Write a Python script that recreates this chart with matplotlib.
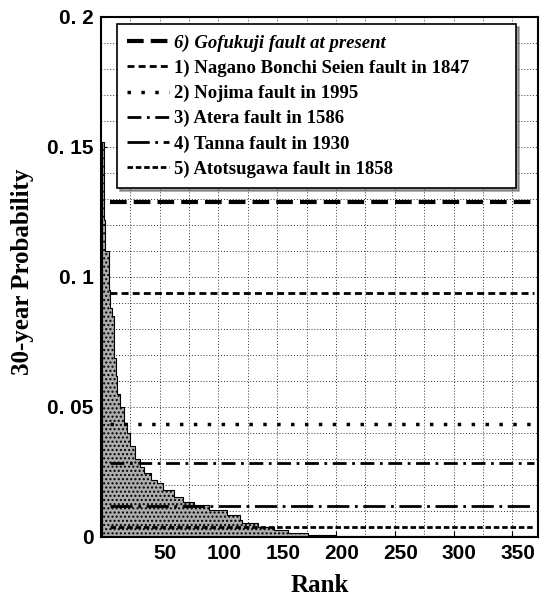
import matplotlib.pyplot as plt
from matplotlib.ticker import FixedLocator, FixedFormatter, MultipleLocator
from matplotlib.transforms import ScaledTranslation

# distribucion de probabilidad a 30 anos por rango
rangos = [1, 2.5, 3.4, 6.8, 7.6, 9.3, 11, 12.7, 13.6, 16, 19.5, 22, 24.6, 29, 33, 37,
          43, 47.5, 53, 62, 70, 79, 92, 107, 118, 120, 134, 147, 159, 176, 200, 372]
probs = [0.152, 0.122, 0.110, 0.095, 0.088, 0.085, 0.069, 0.062, 0.055, 0.050, 0.044,
         0.040, 0.035, 0.030, 0.027, 0.0246, 0.022, 0.0208, 0.018, 0.0154, 0.0135,
         0.0123, 0.0104, 0.0085, 0.0065, 0.0054, 0.0038, 0.0027, 0.0015, 0.0006,
         0.0002, 0.0]

# fallas de referencia
fallas = ["6) Gofukuji fault at present",
          "1) Nagano Bonchi Seien fault in 1847",
          "2) Nojima fault in 1995",
          "3) Atera fault in 1586",
          "4) Tanna fault in 1930",
          "5) Atotsugawa fault in 1858"]
prob_fallas = [0.129, 0.094, 0.0436, 0.0286, 0.012, 0.0039]
estilos = [(0, (4, 1.7)), (0, (2.5, 1.5)), (0, (1, 3)), (0, (5, 2, 1, 2)),
           (0, (8, 2, 1, 2)), (0, (2, 1))]
grosores = [3.0, 2.0, 2.5, 2.0, 2.0, 2.0]

y_ticks = [0, 0.05, 0.1, 0.15, 0.2]
y_labels = ["0", "0. 05", "0. 1", "0. 15", "0. 2"]
x_ticks = [50, 100, 150, 200, 250, 300, 350]

fuente_ejes = ["Liberation Sans Narrow", "Liberation Sans"]


def plot_ranking():
    fig = plt.figure(figsize=(5.42, 5.96), dpi=100)
    ax = fig.add_axes([0.186, 0.099, 0.807, 0.8725])

    ax.fill_between(rangos, probs, step="post", facecolor="#adadad",
                    edgecolor="black", linewidth=0.8, hatch="....", zorder=2)

    lineas = []
    for nombre, p, ls, lw in zip(fallas, prob_fallas, estilos, grosores):
        l = ax.axhline(p, xmin=0.02, xmax=0.99, color="black", linestyle=ls,
                       linewidth=lw, label=nombre, zorder=3)
        lineas.append(l)

    ax.set_xlim(0, 372)
    ax.set_ylim(0, 0.2)
    ax.xaxis.set_major_locator(FixedLocator(x_ticks))
    ax.xaxis.set_minor_locator(MultipleLocator(25))
    ax.yaxis.set_major_locator(FixedLocator(y_ticks))
    ax.yaxis.set_major_formatter(FixedFormatter(y_labels))
    ax.yaxis.set_minor_locator(MultipleLocator(0.01))
    ax.grid(which="both", color="#333333", linestyle=(0, (1, 2)), linewidth=0.7, zorder=1)
    ax.tick_params(which="both", direction="in", length=4, pad=5)
    ax.tick_params(which="minor", length=0)
    desplazar = ScaledTranslation(4 / 72, 0, fig.dpi_scale_trans)
    for lab in ax.get_xticklabels():
        lab.set_transform(lab.get_transform() + desplazar)
    for lab in ax.get_xticklabels() + ax.get_yticklabels():
        lab.set_family(fuente_ejes)
        lab.set_fontweight("bold")
        lab.set_fontsize(15)
    for s in ax.spines.values():
        s.set_linewidth(1.5)

    ax.set_xlabel("Rank", family="Liberation Serif", fontweight="bold", fontsize=18, labelpad=8)
    ax.set_ylabel("30-year Probability", family="Liberation Serif", fontweight="bold",
                  fontsize=18)
    ax.yaxis.set_label_coords(-0.152, 0.51)

    leg = ax.legend(handles=lineas, loc="upper left", bbox_to_anchor=(0.037, 0.6, 0.913, 0.386),
                    mode="expand", borderaxespad=0,
                    prop={"family": "Liberation Serif", "weight": "bold", "size": 13.5},
                    handlelength=2.2, handletextpad=0.3, labelspacing=0.42,
                    fancybox=False, shadow=True, framealpha=1, edgecolor="black",
                    borderpad=0.55)
    leg.get_frame().set_linewidth(1.2)
    leg.get_texts()[0].set_style("italic")

    fig.savefig("out.png", dpi=100)


plot_ranking()
